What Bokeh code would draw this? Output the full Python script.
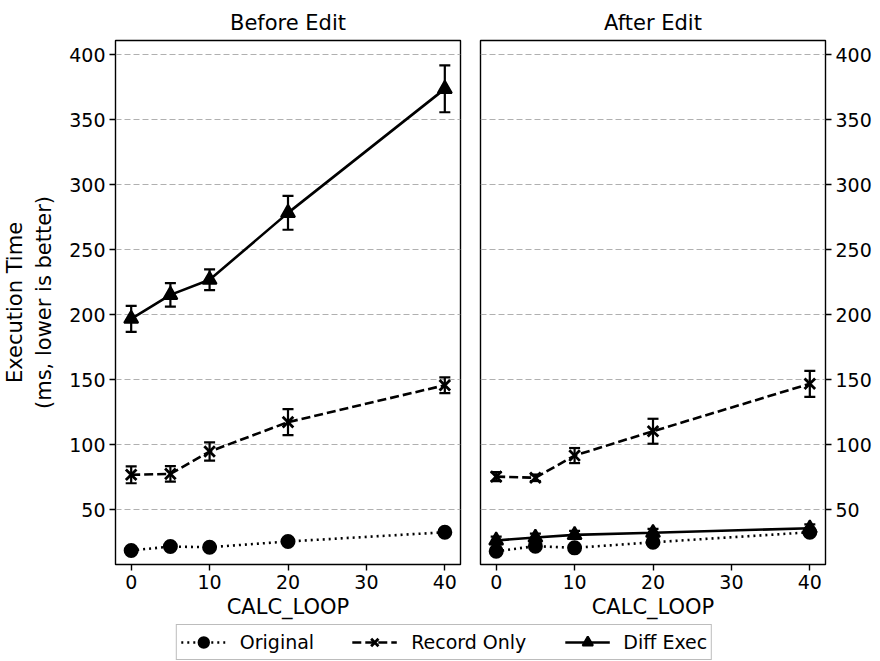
from bokeh.plotting import figure
from bokeh.models import (ColumnDataSource, Range1d, FixedTicker, Whisker, TeeHead,
                          Legend, LegendItem)
from bokeh.layouts import column, row
from bokeh.embed import file_html
from bokeh.resources import INLINE

# ---------------- data ----------------
calc_loop = [0, 5, 10, 20, 40]

before_original = [18.5, 21.5, 21.0, 25.4, 32.5]
before_original_err = [1.0, 1.0, 1.0, 1.0, 1.5]
before_record = [76.7, 77.4, 94.6, 117.2, 145.6]
before_record_err = [6.5, 6.0, 7.0, 10.0, 6.0]
before_diff = [196.7, 215.1, 226.7, 278.2, 373.6]
before_diff_err = [10.0, 9.0, 8.0, 13.0, 18.0]

after_original = [17.9, 21.8, 20.5, 24.8, 32.5]
after_original_err = [1.0, 1.0, 1.0, 1.0, 1.0]
after_record = [75.3, 74.4, 91.5, 110.2, 146.7]
after_record_err = [3.5, 2.5, 5.8, 9.6, 10.0]
after_diff = [26.2, 28.5, 30.5, 32.1, 35.6]
after_diff_err = [3.0, 3.0, 3.0, 3.0, 3.0]

series_names = ["Original", "Record Only", "Diff Exec"]
panel_titles = ["Before Edit", "After Edit"]
y_ticks = [50, 100, 150, 200, 250, 300, 350, 400]
x_ticks = [0, 10, 20, 30, 40]

FONT = "DejaVu Sans"
styles = {
    "Original": dict(dash="dotted", marker="circle", size=13, lw=2.6, mlw=2),
    "Record Only": dict(dash="9 4", marker="x", size=15, lw=2.6, mlw=2.8),
    "Diff Exec": dict(dash="solid", marker="triangle", size=14, lw=2.6, mlw=2),
}

x_range = Range1d(-2, 42)
y_range = Range1d(7.7, 410.8)


def make_panel(title, data, left):
    kw = dict(x_range=x_range, y_range=y_range, output_backend="svg",
              toolbar_location=None, title=title)
    if left:
        p = figure(width=470, height=622, y_axis_location="left", **kw)
        p.min_border_left = 115
        p.min_border_right = 10
    else:
        p = figure(width=410, height=622, y_axis_location="right", **kw)
        p.min_border_left = 10
        p.min_border_right = 55
    p.min_border_top = 40
    p.min_border_bottom = 58

    p.title.align = "center"
    p.title.text_font = FONT
    p.title.text_font_size = "21px"
    p.title.text_font_style = "normal"
    p.title.text_color = "black"
    p.title.standoff = 11

    p.outline_line_color = "black"
    p.outline_line_width = 1.4
    p.xgrid.visible = False
    p.ygrid.grid_line_color = "#b0b0b0"
    p.ygrid.grid_line_dash = "6 3"
    p.ygrid.grid_line_width = 1.2
    p.ygrid.ticker = FixedTicker(ticks=y_ticks)

    for ax in p.xaxis + p.yaxis:
        ax.major_label_text_font = FONT
        ax.major_label_text_font_size = "19px"
        ax.major_label_text_color = "black"
        ax.axis_label_text_font = FONT
        ax.axis_label_text_font_size = "21px"
        ax.axis_label_text_font_style = "normal"
        ax.axis_label_text_color = "black"
        ax.minor_tick_line_color = None
        ax.major_tick_out = 6
        ax.major_tick_in = 0
        ax.major_tick_line_width = 1.4
        ax.major_tick_line_color = "black"
        ax.axis_line_color = None
        ax.major_label_standoff = 4
    p.xaxis.ticker = FixedTicker(ticks=x_ticks)
    p.yaxis.ticker = FixedTicker(ticks=y_ticks)
    p.xaxis.axis_label = "CALC_LOOP"
    p.xaxis.axis_label_standoff = 3
    if left:
        p.yaxis.axis_label = "Execution Time\n(ms, lower is better)"
        p.yaxis.axis_label_standoff = 10

    for name, (vals, errs) in zip(series_names, data):
        st = styles[name]
        src = ColumnDataSource(dict(
            x=calc_loop, y=vals,
            lo=[v - e for v, e in zip(vals, errs)],
            hi=[v + e for v, e in zip(vals, errs)]))
        p.line("x", "y", source=src, line_color="black", line_width=st["lw"],
               line_dash=st["dash"])
        w = Whisker(base="x", upper="hi", lower="lo", source=src,
                    line_color="black", line_width=2.2, level="glyph",
                    upper_head=TeeHead(size=11, line_width=2.2, line_color="black"),
                    lower_head=TeeHead(size=11, line_width=2.2, line_color="black"))
        p.add_layout(w)
        p.scatter("x", "y", source=src, marker=st["marker"], size=st["size"],
                  fill_color="black", line_color="black", line_width=st["mlw"])
    return p


p1 = make_panel(panel_titles[0], [(before_original, before_original_err),
                                  (before_record, before_record_err),
                                  (before_diff, before_diff_err)], True)
p2 = make_panel(panel_titles[1], [(after_original, after_original_err),
                                  (after_record, after_record_err),
                                  (after_diff, after_diff_err)], False)

# legend strip
pl = figure(width=880, height=39, output_backend="svg", toolbar_location=None,
            x_range=Range1d(0, 1), y_range=Range1d(0, 1),
            x_axis_location=None, y_axis_location=None)
pl.min_border_left = 8
pl.min_border_right = 0
pl.min_border_top = 0
pl.min_border_bottom = 0
pl.grid.visible = False
pl.outline_line_color = None
items = []
for name in series_names:
    st = styles[name]
    lr = pl.line(x=[-5, -4], y=[-5, -5], line_color="black", line_width=st["lw"],
                 line_dash=st["dash"])
    sr = pl.scatter(x=[-5], y=[-5], marker=st["marker"], fill_color="black",
                    line_color="black", line_width=st["mlw"])
    items.append(LegendItem(label=name, renderers=[lr, sr]))
leg = Legend(items=items, orientation="horizontal", location="center",
             label_text_font=FONT, label_text_font_size="19px",
             label_text_color="black",
             glyph_width=45, glyph_height=26, spacing=38, padding=4,
             label_standoff=14, margin=0,
             border_line_color="#bcbcbc", border_line_width=1.4,
             border_line_alpha=1.0,
             background_fill_color="white")
pl.add_layout(leg, "center")

layout = column(row(p1, p2), pl)
open("out.html", "w").write(file_html(layout, INLINE))
